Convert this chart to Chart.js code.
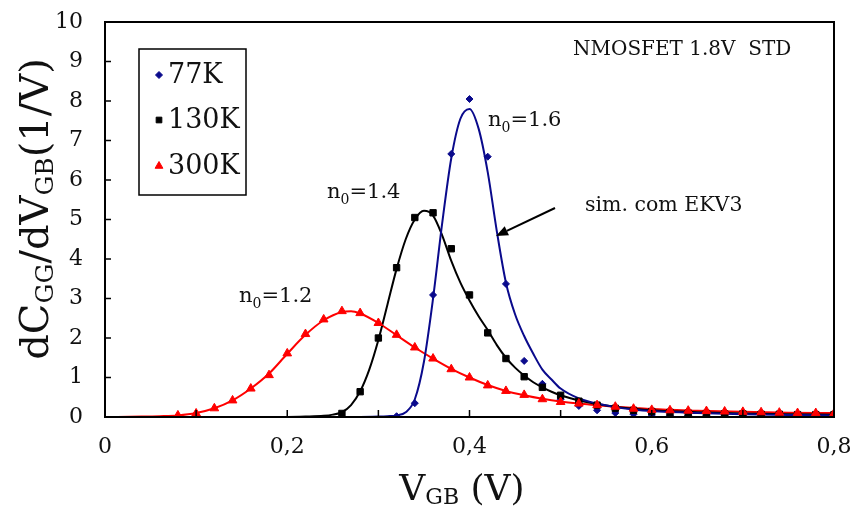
<!DOCTYPE html>
<html lang="pt">
<head>
    <meta charset="UTF-8">
    <title>dCGG/dVGB vs VGB</title>
    <style>
        * { margin: 0; padding: 0; box-sizing: border-box; }
        body { background: #fff; width: 850px; height: 510px; overflow: hidden; }
        .chart-box { position: relative; width: 850px; height: 510px; }
    </style>
    <script src="https://cdn.jsdelivr.net/npm/chart.js"></script>
</head>
<body>
    <div class="chart-box">
        <canvas id="capChart" width="850" height="510"></canvas>
    </div>

    <script>
        // measured points (markers)
        const measV77 = [0.32, 0.34, 0.36, 0.38, 0.40, 0.42, 0.44, 0.46, 0.48, 0.50, 0.52, 0.54, 0.56, 0.58, 0.60, 0.62, 0.64, 0.66, 0.68, 0.70, 0.72, 0.74, 0.76, 0.78, 0.80];
        const measY77 = [0.02, 0.35, 3.09, 6.66, 8.05, 6.59, 3.37, 1.42, 0.84, 0.45, 0.28, 0.17, 0.10, 0.07, 0.05, 0.04, 0.04, 0.03, 0.03, 0.03, 0.03, 0.03, 0.03, 0.03, 0.03];

        const measV130 = [0.26, 0.28, 0.30, 0.32, 0.34, 0.36, 0.38, 0.40, 0.42, 0.44, 0.46, 0.48, 0.50, 0.52, 0.54, 0.56, 0.58, 0.60, 0.62, 0.64, 0.66, 0.68, 0.70, 0.72, 0.74, 0.76, 0.78, 0.80];
        const measY130 = [0.09, 0.64, 2.0, 3.78, 5.05, 5.17, 4.26, 3.09, 2.13, 1.48, 1.02, 0.75, 0.55, 0.40, 0.30, 0.22, 0.17, 0.14, 0.12, 0.10, 0.09, 0.08, 0.08, 0.07, 0.07, 0.06, 0.06, 0.06];

        const measV300 = [0.08, 0.10, 0.12, 0.14, 0.16, 0.18, 0.20, 0.22, 0.24, 0.26, 0.28, 0.30, 0.32, 0.34, 0.36, 0.38, 0.40, 0.42, 0.44, 0.46, 0.48, 0.50, 0.52, 0.54, 0.56, 0.58, 0.60, 0.62, 0.64, 0.66, 0.68, 0.70, 0.72, 0.74, 0.76, 0.78, 0.80];
        const measY300 = [0.04, 0.09, 0.22, 0.42, 0.72, 1.06, 1.61, 2.10, 2.47, 2.68, 2.63, 2.38, 2.08, 1.76, 1.48, 1.21, 1.00, 0.80, 0.66, 0.56, 0.45, 0.38, 0.34, 0.30, 0.26, 0.21, 0.18, 0.17, 0.16, 0.15, 0.14, 0.13, 0.12, 0.11, 0.10, 0.10, 0.09];

        // EKV3 simulation curves
        const simV77 = [0, 0.28, 0.30, 0.31, 0.32, 0.33, 0.34, 0.35, 0.36, 0.37, 0.38, 0.39, 0.40, 0.41, 0.42, 0.43, 0.44, 0.45, 0.46, 0.47, 0.48, 0.49, 0.50, 0.52, 0.54, 0.56, 0.58, 0.60, 0.65, 0.70, 0.75, 0.80];
        const simY77 = [0, 0, 0.01, 0.02, 0.04, 0.12, 0.45, 1.4, 3.0, 4.9, 6.55, 7.55, 7.8, 7.3, 6.2, 4.7, 3.4, 2.6, 2.05, 1.6, 1.2, 0.95, 0.72, 0.47, 0.34, 0.25, 0.19, 0.15, 0.10, 0.07, 0.05, 0.04];

        const simV130 = [0, 0.20, 0.22, 0.24, 0.25, 0.26, 0.27, 0.28, 0.29, 0.30, 0.31, 0.32, 0.33, 0.34, 0.35, 0.36, 0.37, 0.38, 0.39, 0.40, 0.41, 0.42, 0.43, 0.44, 0.45, 0.46, 0.47, 0.48, 0.49, 0.50, 0.52, 0.54, 0.56, 0.58, 0.60, 0.65, 0.70, 0.75, 0.80];
        const simY130 = [0, 0, 0.01, 0.03, 0.06, 0.12, 0.3, 0.65, 1.2, 1.95, 2.85, 3.75, 4.5, 5.0, 5.22, 5.1, 4.6, 3.95, 3.4, 2.95, 2.55, 2.2, 1.82, 1.5, 1.25, 1.05, 0.88, 0.75, 0.64, 0.55, 0.42, 0.33, 0.26, 0.21, 0.17, 0.12, 0.09, 0.07, 0.06];

        const simV300 = [0, 0.04, 0.06, 0.08, 0.10, 0.12, 0.14, 0.16, 0.18, 0.20, 0.22, 0.24, 0.26, 0.27, 0.28, 0.30, 0.32, 0.34, 0.36, 0.38, 0.40, 0.42, 0.44, 0.46, 0.48, 0.50, 0.52, 0.54, 0.56, 0.58, 0.60, 0.65, 0.70, 0.75, 0.80];
        const simY300 = [0, 0.01, 0.02, 0.04, 0.10, 0.22, 0.42, 0.72, 1.1, 1.6, 2.08, 2.45, 2.66, 2.68, 2.62, 2.38, 2.07, 1.76, 1.48, 1.22, 1.0, 0.81, 0.66, 0.55, 0.46, 0.39, 0.34, 0.30, 0.26, 0.23, 0.20, 0.16, 0.13, 0.11, 0.10];

        const legendLabels = ['77K', '130K', '300K'];
        const xTickLabels = ['0', '0,2', '0,4', '0,6', '0,8'];

        const BLUE = '#0a0a8c';
        const RED = '#ff0000';
        const BLACK = '#000000';
        const SERIF = '"DejaVu Serif", serif';

        function pts(xs, ys) {
            return xs.map((x, i) => ({ x: x, y: ys[i] }));
        }

        // text with subscripts: parts = [[text, isSub], ...]
        function drawRich(ctx, parts, size, x, y, align) {
            const subSize = Math.round(size * 0.62);
            let total = 0;
            parts.forEach(p => {
                ctx.font = (p[1] ? subSize : size) + 'px ' + SERIF;
                total += ctx.measureText(p[0]).width;
            });
            let cx = align === 'center' ? x - total / 2 : x;
            ctx.textBaseline = 'alphabetic';
            ctx.textAlign = 'left';
            parts.forEach(p => {
                ctx.font = (p[1] ? subSize : size) + 'px ' + SERIF;
                ctx.fillText(p[0], cx, p[1] ? y + size * 0.12 : y);
                cx += ctx.measureText(p[0]).width;
            });
        }

        const decor = {
            id: 'decor',
            afterDatasetsDraw(chart) {
                const ctx = chart.ctx;
                const a = chart.chartArea;
                const xs = chart.scales.x, ys = chart.scales.y;
                ctx.save();
                ctx.strokeStyle = '#000';
                ctx.lineWidth = 2;
                ctx.strokeRect(a.left, a.top, a.right - a.left, a.bottom - a.top);

                // inward tick marks
                ctx.lineWidth = 1.5;
                ctx.beginPath();
                for (let v = 1; v < 10; v++) {
                    const py = ys.getPixelForValue(v);
                    ctx.moveTo(a.left, py); ctx.lineTo(a.left + 6, py);
                }
                for (let k = 1; k < 8; k++) {
                    const px = xs.getPixelForValue(k / 10);
                    ctx.moveTo(px, a.bottom); ctx.lineTo(px, a.bottom - 7);
                }
                ctx.stroke();

                ctx.fillStyle = '#111';
                // axis titles
                drawRich(ctx, [['V', false], ['GB', true], [' (V)', false]], 36, 462, 500, 'center');
                ctx.save();
                ctx.translate(48, 209);
                ctx.rotate(-Math.PI / 2);
                drawRich(ctx, [['dC', false], ['GG', true], ['/dV', false], ['GB', true], ['(1/V)', false]], 40, 0, 0, 'center');
                ctx.restore();

                // annotations
                ctx.font = '20px ' + SERIF;
                ctx.textAlign = 'left';
                ctx.textBaseline = 'alphabetic';
                ctx.fillText('NMOSFET 1.8V  STD', 573, 55);
                ctx.font = '20.5px ' + SERIF;
                ctx.fillText('sim. com EKV3', 585, 211);

                const nLabel = (txt, x, y) => {
                    ctx.font = '21px ' + SERIF;
                    ctx.textBaseline = 'alphabetic';
                    ctx.fillText('n', x, y);
                    let w = ctx.measureText('n').width;
                    ctx.font = '14px ' + SERIF;
                    ctx.fillText('0', x + w, y + 6);
                    w += ctx.measureText('0').width;
                    ctx.font = '21px ' + SERIF;
                    ctx.fillText('=' + txt, x + w, y);
                };
                nLabel('1.6', 488, 126);
                nLabel('1.4', 327, 198);
                nLabel('1.2', 239, 302);

                // arrow
                const x0 = 555, y0 = 208, x1 = 496, y1 = 236;
                const ang = Math.atan2(y1 - y0, x1 - x0);
                const hl = 12, hw = 5;
                const bx = x1 - hl * Math.cos(ang), by = y1 - hl * Math.sin(ang);
                ctx.strokeStyle = '#000';
                ctx.lineWidth = 2;
                ctx.beginPath();
                ctx.moveTo(x0, y0); ctx.lineTo(bx, by);
                ctx.stroke();
                ctx.beginPath();
                ctx.moveTo(x1, y1);
                ctx.lineTo(bx + hw * Math.sin(ang), by - hw * Math.cos(ang));
                ctx.lineTo(bx - hw * Math.sin(ang), by + hw * Math.cos(ang));
                ctx.closePath();
                ctx.fillStyle = '#000';
                ctx.fill();

                // legend
                ctx.lineWidth = 1.5;
                ctx.strokeStyle = '#000';
                ctx.strokeRect(139, 49, 107, 146);
                const rows = [75, 120, 166];
                const styles = ['rectRot', 'rect', 'triangle'];
                const cols = [BLUE, BLACK, RED];
                const rads = [3.5, 4, 4.5];
                rows.forEach((ry, i) => {
                    ctx.fillStyle = cols[i];
                    ctx.strokeStyle = cols[i];
                    ctx.lineWidth = 1;
                    Chart.helpers.drawPoint(ctx, { pointStyle: styles[i], radius: rads[i], borderWidth: 1 }, 159, ry);
                    ctx.fillStyle = '#111';
                    ctx.font = '27px ' + SERIF;
                    ctx.textBaseline = 'middle';
                    ctx.textAlign = 'left';
                    ctx.fillText(legendLabels[i], 168, ry + 1);
                });
                ctx.restore();
            }
        };

        const curve = (label, data, color) => ({
            label: label, data: data, borderColor: color, borderWidth: 2,
            pointRadius: 0, fill: false, cubicInterpolationMode: 'monotone', order: 5
        });
        const marks = (label, data, color, style, r, order) => ({
            label: label, data: data, showLine: false, pointStyle: style,
            pointRadius: r, pointBackgroundColor: color, pointBorderColor: color,
            pointBorderWidth: 1, order: order
        });

        const ctx = document.getElementById('capChart').getContext('2d');
        new Chart(ctx, {
            type: 'line',
            data: {
                datasets: [
                    curve('sim 77K', pts(simV77, simY77), BLUE),
                    curve('sim 130K', pts(simV130, simY130), BLACK),
                    curve('sim 300K', pts(simV300, simY300), RED),
                    marks(legendLabels[0], pts(measV77, measY77), BLUE, 'rectRot', 3.5, 3),
                    marks(legendLabels[1], pts(measV130, measY130), BLACK, 'rect', 4.5, 2),
                    marks(legendLabels[2], pts(measV300, measY300), RED, 'triangle', 5, 1)
                ]
            },
            options: {
                responsive: false,
                animation: false,
                layout: { padding: { top: 22, right: 16, left: 0, bottom: 0 } },
                plugins: { legend: { display: false }, tooltip: { enabled: false } },
                scales: {
                    x: {
                        type: 'linear', min: 0, max: 0.8,
                        grid: { display: false },
                        border: { display: false },
                        afterFit: s => { s.height = 93; s.paddingRight = 0; s.paddingLeft = 0; },
                        afterBuildTicks: s => {
                            s.ticks = [0, 0.2, 0.4, 0.6, 0.8].map(v => ({ value: v }));
                        },
                        ticks: {
                            padding: 9, maxRotation: 0, autoSkip: false,
                            color: '#111', font: { family: SERIF, size: 22 },
                            callback: (v, i) => xTickLabels[i]
                        }
                    },
                    y: {
                        min: 0, max: 10,
                        grid: { display: false },
                        border: { display: false },
                        afterFit: s => { s.width = 105; s.paddingTop = 0; s.paddingBottom = 0; },
                        ticks: {
                            stepSize: 1, padding: 14,
                            color: '#111', font: { family: SERIF, size: 22 }
                        }
                    }
                }
            },
            plugins: [decor]
        });
    </script>
</body>
</html>
